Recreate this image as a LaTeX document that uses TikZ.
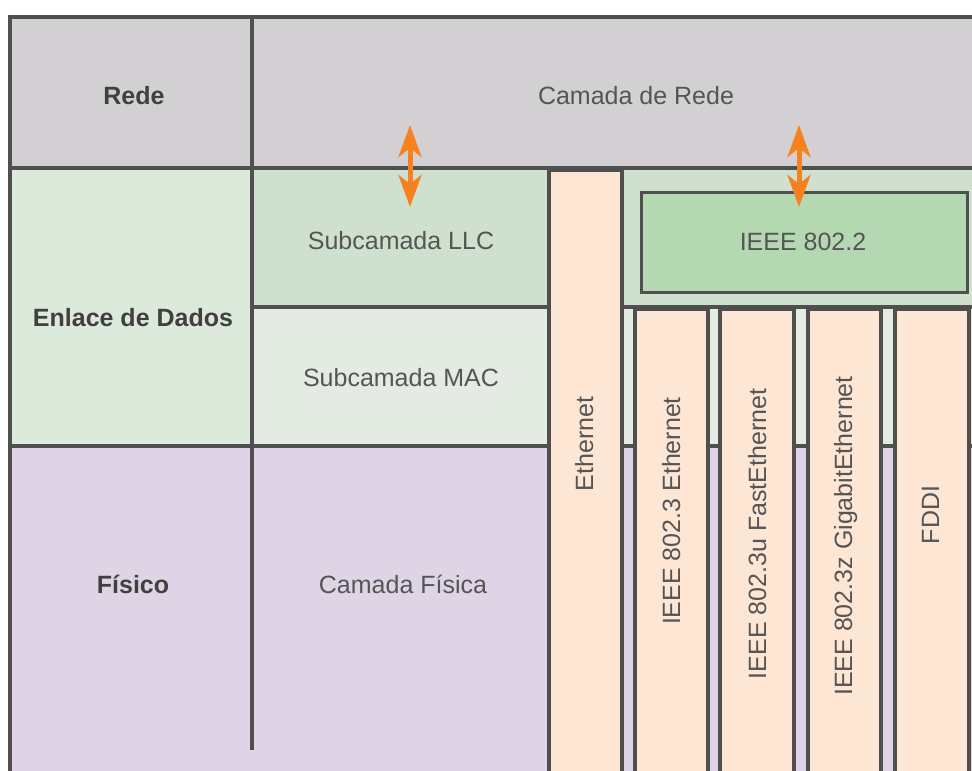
\documentclass[tikz,border=0pt]{standalone}
\usepackage{fontspec}
\setmainfont{Liberation Sans}
\usetikzlibrary{arrows.meta}
\definecolor{redefill}{HTML}{D3D0D3}
\definecolor{enlacefill}{HTML}{DBEADA}
\definecolor{llcfill}{HTML}{D0E0CE}
\definecolor{macfill}{HTML}{E3EBE3}
\definecolor{fisfill}{HTML}{DFD4E6}
\definecolor{barfill}{HTML}{FEE6D5}
\definecolor{boxfill}{HTML}{B4D8B2}
\definecolor{linecol}{HTML}{4F4F4F}
\definecolor{txtcol}{HTML}{555555}
\definecolor{boldcol}{HTML}{404040}
\definecolor{arrcol}{HTML}{F5821F}
\tikzset{
  gridline/.style={draw=linecol, line width=3.5pt},
  label/.style={inner sep=0pt, text height=18pt, text depth=0pt, text=txtcol,
    font=\fontsize{25}{30}\selectfont},
  boldlabel/.style={label, text=boldcol, font=\fontsize{25}{30}\selectfont\bfseries},
  vlabel/.style={label, rotate=90},
  barbox/.style={draw=linecol, fill=barfill, line width=3.5pt, inner sep=0pt,
    anchor=north west, minimum width=73pt, minimum height=620pt},
  ieeebox/.style={draw=linecol, fill=boxfill, line width=2.5pt, inner sep=0pt,
    anchor=north west, minimum width=326pt, minimum height=100pt},
  updown/.style={draw=arrcol, line width=5pt,
    {Stealth[length=32pt,width=23pt,inset=9pt]}-{Stealth[length=32pt,width=23pt,inset=9pt]}},
}
\begin{document}
\begin{tikzpicture}[x=1pt,y=-1pt]
\useasboundingbox (0,0) rectangle (972,771);
\clip (0,0) rectangle (972,771);
\fill[white] (0,0) rectangle (972,771);
% fills
\fill[redefill] (10,17) rectangle (980,168);
\fill[enlacefill] (10,168) rectangle (252,446);
\fill[llcfill] (252,168) rectangle (980,307);
\fill[macfill] (252,307) rectangle (980,446);
\fill[fisfill] (10,446) rectangle (980,780);
% grid lines
\draw[gridline] (8.25,17) -- (980,17);
\draw[gridline] (10,17) -- (10,780);
\draw[gridline] (252,17) -- (252,750);
\draw[gridline] (10,168) -- (980,168);
\draw[gridline] (252,307) -- (980,307);
\draw[gridline] (10,446) -- (980,446);
% bars
\node[barbox] (eth) at (547,168) {};
\node[barbox] (b1) at (633,307) {};
\node[barbox, minimum width=74pt] (b2) at (718,307) {};
\node[barbox] (b3) at (806,307) {};
\node[barbox, minimum width=74pt] (b4) at (893,307) {};
\node[ieeebox] (ieee) at (640,191) {};
% labels
\node[boldlabel] (lrede) at (134,95) {Rede};
\node[label] (lcamrede) at (636,95) {Camada de Rede};
\node[boldlabel] (lenlace) at (133,317) {Enlace de Dados};
\node[label] (lllc) at (401,240) {Subcamada LLC};
\node[label] (lmac) at (401,377) {Subcamada MAC};
\node[boldlabel] (lfis) at (133,584) {Físico};
\node[label] (lcamfis) at (403,584) {Camada Física};
\node[label] (l8022) at (803,241) {IEEE 802.2};
\node[vlabel] (leth) at (584,444) {Ethernet};
\node[vlabel] (l8023) at (671,511) {IEEE 802.3 Ethernet};
\node[vlabel] (l8023u) at (757,534) {IEEE 802.3u FastEthernet};
\node[vlabel] (l8023z) at (843,536) {IEEE 802.3z GigabitEthernet};
\node[vlabel] (lfddi) at (930,515) {FDDI};
% arrows
\coordinate (a1t) at (410,125);
\coordinate (a1b) at (410,207);
\coordinate (a2t) at (799,125);
\coordinate (a2b) at (799,207);
\draw[updown] (a1t) -- (a1b);
\draw[updown] (a2t) -- (a2b);
\end{tikzpicture}
\end{document}
